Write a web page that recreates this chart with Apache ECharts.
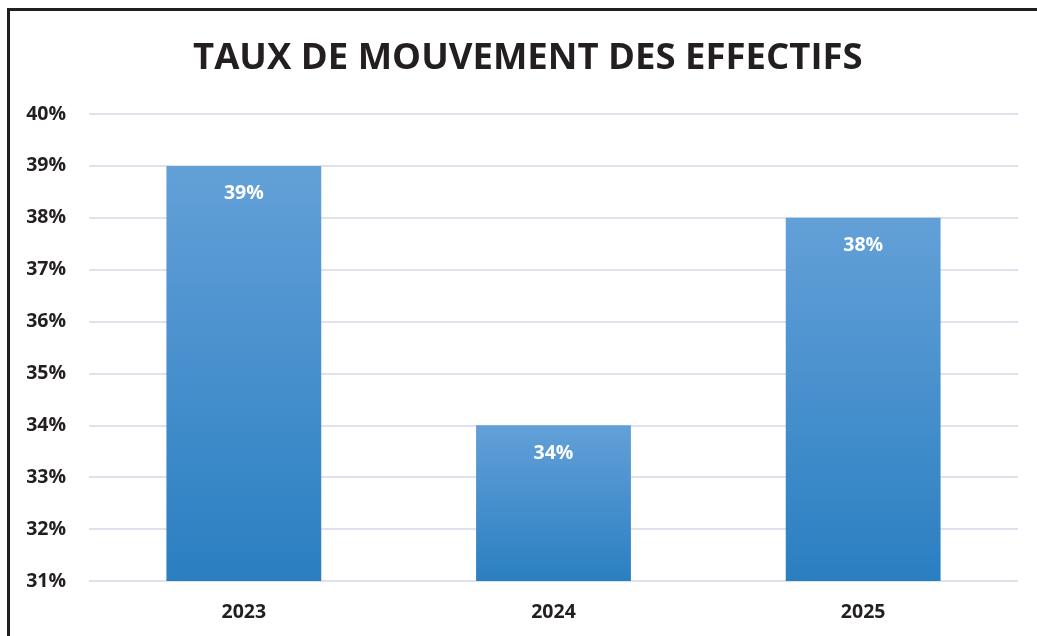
<!DOCTYPE html>
<html>
<head>
<meta charset="utf-8">
<script src="https://cdn.jsdelivr.net/npm/echarts@6/dist/echarts.min.js"></script>
<style>
    html, body { margin: 0; padding: 0; background: #fff; overflow: hidden; }
    #frame { position: absolute; left: 7px; top: 8px; width: 1100px; height: 700px; border: 3px solid #231f20; box-sizing: border-box; }
    #chart { position: absolute; left: 0; top: 0; width: 1037px; height: 636px; }
</style>
</head>
<body>
<div id="frame"></div>
<div id="chart"></div>
<script>
    var years = ['2023', '2024', '2025'];
    var rates = [39, 34, 38];
    var yTicks = [31, 32, 33, 34, 35, 36, 37, 38, 39, 40];

    var chart = echarts.init(document.getElementById('chart'), null, {renderer: 'canvas'});

    var fontFamily = '"Open Sans", "Noto Sans", sans-serif';

    chart.setOption({
        animation: false,
        title: {
            text: 'TAUX DE MOUVEMENT DES EFFECTIFS',
            left: 188,
            top: 35,
            textStyle: {
                fontFamily: fontFamily,
                fontWeight: 'bold',
                fontSize: 36.5,
                color: '#231f20'
            }
        },
        grid: {
            left: 89,
            right: 19,
            top: 114,
            bottom: 55
        },
        xAxis: {
            type: 'category',
            data: years,
            axisLine: { show: false },
            axisTick: { show: false },
            axisLabel: {
                margin: 21,
                fontFamily: fontFamily,
                fontWeight: 'bold',
                fontSize: 19.5,
                color: '#231f20'
            }
        },
        yAxis: {
            type: 'value',
            min: yTicks[0],
            max: yTicks[yTicks.length - 1],
            interval: 1,
            axisLine: { show: false },
            axisTick: { show: false },
            splitLine: { lineStyle: { color: '#dfe2ec', width: 2 } },
            axisLabel: {
                margin: 23,
                fontFamily: fontFamily,
                fontWeight: 'bold',
                fontSize: 19.5,
                color: '#231f20',
                formatter: '{value}%'
            }
        },
        series: [{
            type: 'bar',
            data: rates,
            barWidth: '50%',
            itemStyle: {
                color: new echarts.graphic.LinearGradient(0, 0, 0, 1, [
                    {offset: 0, color: '#63a0d8'},
                    {offset: 1, color: '#2a7fc1'}
                ])
            },
            label: {
                show: true,
                position: 'insideTop',
                distance: 18,
                fontFamily: fontFamily,
                fontWeight: 'bold',
                fontSize: 19.5,
                color: '#ffffff',
                formatter: '{c}%'
            }
        }]
    });
</script>
</body>
</html>
